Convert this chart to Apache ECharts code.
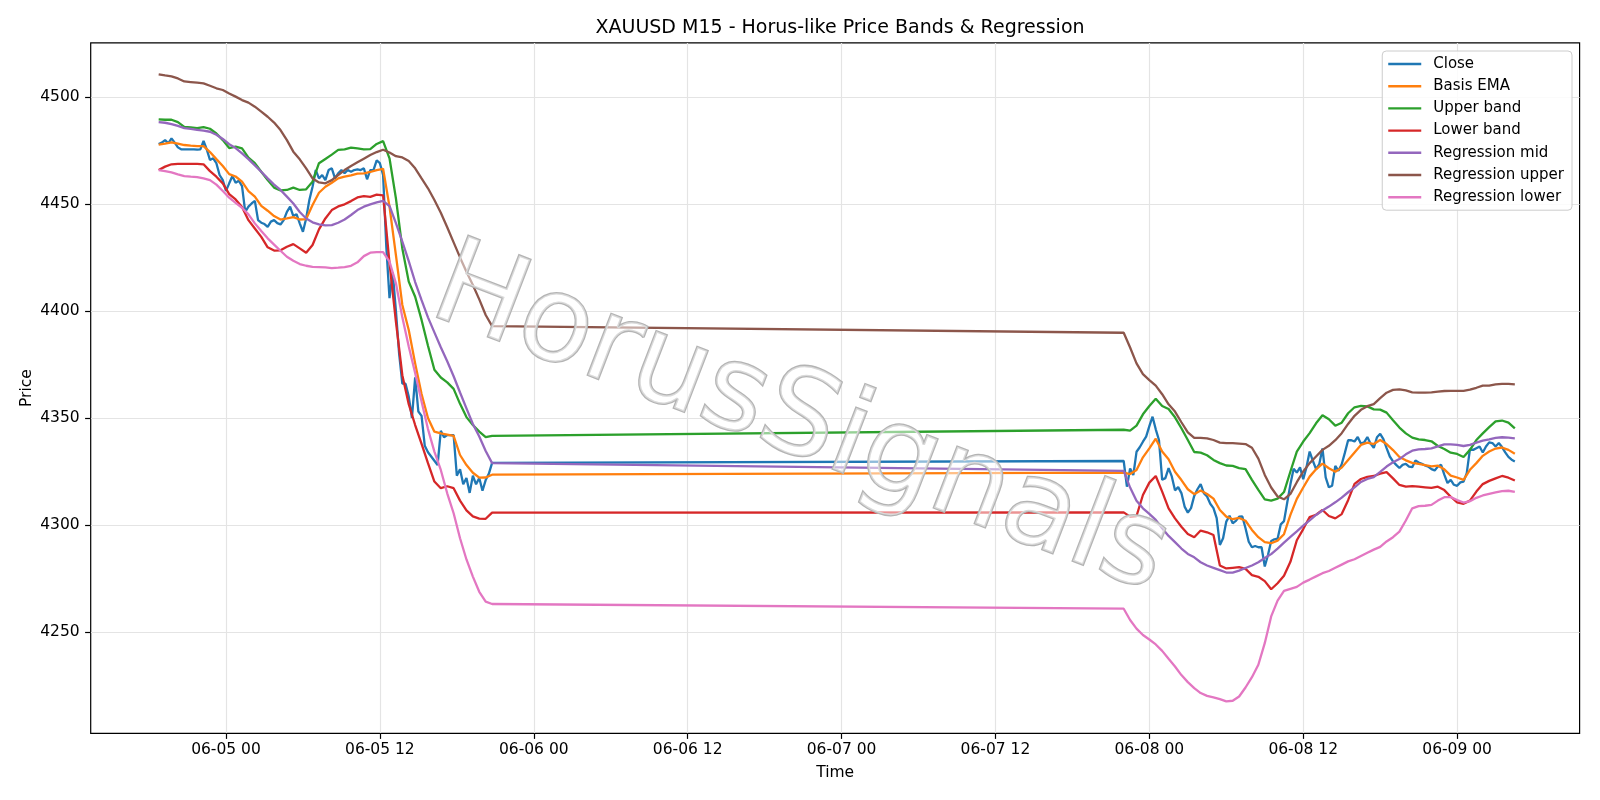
<!DOCTYPE html>
<html>
<head>
<meta charset="utf-8">
<script src="https://cdn.jsdelivr.net/npm/echarts@6/dist/echarts.min.js"></script>
<style>
html,body{margin:0;padding:0;background:#ffffff;}
#chart{width:1600px;height:800px;}
</style>
</head>
<body>
<div id="chart"></div>
<script>
// ---------- DATA ----------
// Close: M15 bars. Segment 1 starts 06-04 18:45, segment 2 starts 06-07 22:00 (UTC)
const closeStart1 = '2026-06-04T18:45:00Z';
const closeStart2 = '2026-06-07T22:00:00Z';
const closeStepMin = 15;
// Indicator lines are read every 30 min
const lineStart1 = '2026-06-04T18:45:00Z';
const lineStart2 = '2026-06-07T22:00:00Z';
const lineStepMin = 30;

const close1 = [4477.9,4478.6,4479.8,4478.3,4480.6,4478.6,4476.4,4475.5,4475.5,4475.5,
4475.5,4475.5,4475.3,4475.5,4479.4,4475.5,4470.5,4471.3,4469.0,4463.5,
4461.1,4456.1,4459.6,4463.0,4459.9,4460.8,4458.3,4446.3,4448.7,4450.2,
4451.4,4442.4,4441.2,4440.6,4439.3,4441.7,4442.4,4441.0,4440.4,4442.4,
4446.3,4448.7,4444.3,4445.2,4440.9,4437.0,4443.2,4451.8,4458.0,4465.8,
4461.9,4463.5,4461.1,4465.8,4466.6,4461.9,4464.3,4465.8,4464.3,4465.8,
4465.0,4465.8,4466.1,4465.8,4466.6,4461.5,4465.8,4465.8,4470.3,4469.0,
4463.5,4430.0,4406.0,4418.0,4400.0,4380.0,4366.0,4366.0,4360.0,4350.0,
4369.0,4353.0,4351.0,4337.0,4334.0,4332.0,4330.0,4328.0,4344.0,4341.0,
4342.0,4342.0,4342.0,4323.0,4326.0,4319.0,4322.0,4315.0,4323.0,4319.0,
4322.0,4316.0,4321.0,4324.0,4329.0];
const close2 = [4329.9,4317.9,4326.4,4323.3,4334.2,4336.3,4338.9,4341.3,4346.2,4350.6,
4344.7,4339.7,4321.1,4321.9,4326.6,4322.7,4316.2,4317.7,4314.9,4308.6,
4305.8,4307.9,4313.6,4316.7,4319.1,4314.9,4313.3,4309.9,4307.9,4303.2,
4290.7,4293.8,4301.6,4304.3,4300.8,4301.9,4303.9,4304.0,4298.5,4292.2,
4289.6,4290.2,4289.6,4289.6,4280.6,4286.0,4292.5,4293.3,4293.6,4300.3,
4301.8,4310.4,4319.0,4326.3,4324.5,4326.9,4321.4,4326.9,4334.3,4330.0,
4326.1,4328.4,4335.8,4322.2,4317.6,4318.3,4327.6,4325.3,4328.4,4333.8,
4339.6,4339.6,4339.0,4341.1,4338.0,4338.6,4341.1,4338.0,4336.0,4341.0,
4342.6,4340.1,4335.9,4332.0,4329.7,4328.1,4326.6,4328.1,4328.6,4327.3,
4327.0,4330.1,4329.2,4328.6,4327.8,4327.3,4326.1,4325.5,4327.3,4328.1,
4323.5,4319.6,4321.1,4318.8,4318.3,4319.9,4320.3,4324.2,4335.4,4335.1,
4335.9,4336.7,4333.9,4336.7,4338.6,4338.3,4336.7,4338.3,4336.4,4333.9,
4331.8,4330.5,4329.7];

const ema1 = [4477.7,4478.1,4478.7,4478.1,4477.5,4477.2,4477.0,4477.0,4474.2,4470.9,
4467.7,4463.9,4462.8,4460.4,4456.0,4453.4,4449.1,4446.8,4444.3,4442.7,
4443.2,4443.8,4442.7,4442.9,4449.5,4455.2,4458.0,4459.9,4461.9,4462.7,
4463.3,4464.1,4464.3,4464.9,4465.8,4466.4,4448.7,4426.1,4402.8,4391.1,
4375.5,4361.2,4350.0,4343.6,4342.8,4342.2,4341.6,4332.7,4328.0,4324.4,
4322.1,4322.2,4323.5];
const ema2 = [4324.5,4323.8,4325.7,4331.6,4335.8,4340.3,4334.3,4330.7,4324.9,4321.0,
4316.7,4314.4,4316.1,4314.5,4312.3,4307.0,4303.9,4302.7,4303.3,4302.0,
4297.7,4294.3,4292.0,4291.5,4292.7,4295.7,4304.7,4312.2,4317.5,4322.6,
4326.0,4328.7,4326.5,4324.9,4326.8,4330.4,4333.9,4337.4,4338.5,4337.8,
4339.7,4337.8,4335.0,4331.8,4330.2,4329.0,4328.5,4328.0,4327.4,4327.7,
4326.0,4323.1,4322.2,4321.1,4325.8,4328.9,4332.3,4334.3,4335.7,4336.2,
4335.1,4333.3];

const upper1 = [4489.5,4489.3,4489.3,4488.2,4486.0,4485.7,4485.4,4485.9,4485.1,4482.9,
4479.8,4476.1,4476.7,4475.9,4471.6,4469.0,4465.0,4461.1,4457.6,4456.3,
4456.5,4457.6,4456.5,4456.8,4460.4,4469.0,4471.0,4473.0,4475.2,4475.5,
4476.3,4475.9,4475.5,4475.6,4478.0,4479.3,4471.3,4452.6,4429.2,4413.7,
4406.6,4395.8,4383.7,4372.5,4368.9,4366.6,4363.6,4356.6,4350.4,4346.7,
4343.6,4341.1,4341.6];
const upper2 = [4344.5,4344.1,4346.4,4351.7,4355.6,4359.0,4355.6,4354.2,4350.3,4345.2,
4339.7,4334.1,4333.8,4332.6,4330.4,4328.9,4327.8,4327.6,4326.6,4326.1,
4321.1,4316.4,4312.0,4311.4,4312.3,4315.4,4325.0,4334.3,4339.0,4342.9,
4347.5,4351.3,4349.4,4346.4,4347.8,4352.2,4355.0,4355.6,4355.4,4354.0,
4353.9,4352.5,4348.9,4345.5,4342.8,4340.8,4340.0,4339.7,4339.1,4336.9,
4335.5,4333.8,4333.2,4331.8,4335.1,4339.7,4342.8,4345.7,4348.4,4348.8,
4347.8,4345.1];

const lower1 = [4465.8,4467.4,4468.5,4468.7,4468.7,4468.7,4468.7,4468.5,4465.3,4462.7,
4459.6,4454.6,4452.1,4448.5,4442.4,4438.5,4434.6,4429.7,4428.2,4428.3,
4430.0,4431.2,4429.2,4427.2,4430.8,4438.1,4443.2,4447.1,4448.8,4449.8,
4451.3,4453.0,4453.6,4453.3,4454.3,4454.0,4422.3,4395.0,4370.0,4356.4,
4346.7,4337.9,4328.9,4320.3,4317.2,4318.1,4317.2,4311.4,4306.8,4304.0,
4303.0,4302.9,4305.8];
const lower2 = [4305.9,4303.9,4304.2,4314.0,4319.8,4322.9,4315.6,4307.8,4303.1,4299.2,
4295.8,4294.3,4297.4,4296.6,4295.3,4281.1,4279.7,4280.0,4280.3,4279.5,
4276.6,4275.8,4273.8,4270.0,4272.8,4276.3,4282.8,4292.9,4298.1,4303.7,
4304.8,4307.0,4304.2,4303.1,4305.1,4311.6,4319.2,4321.5,4322.5,4322.9,
4324.0,4324.7,4321.8,4318.7,4317.9,4318.2,4317.9,4317.6,4317.3,4317.9,
4316.3,4313.2,4310.6,4309.9,4311.4,4315.6,4319.1,4320.6,4321.8,4322.9,
4322.1,4320.8];

const regMid1 = [4488.2,4487.9,4487.3,4486.4,4485.4,4485.0,4484.6,4484.2,4483.7,4482.3,
4480.3,4477.9,4476.1,4473.6,4470.9,4468.0,4465.0,4461.9,4459.0,4456.5,
4453.4,4450.2,4446.2,4443.2,4441.4,4440.4,4440.0,4440.1,4441.2,4442.7,
4444.8,4447.1,4448.7,4449.8,4450.7,4451.4,4449.0,4441.0,4432.4,4423.3,
4413.5,4405.0,4397.0,4390.0,4383.0,4376.5,4369.5,4361.9,4354.5,4347.2,
4341.3,4334.6,4328.9];
const regMid2 = [4325.3,4317.5,4311.3,4307.8,4305.2,4302.4,4298.5,4294.9,4292.0,4289.0,
4286.5,4284.9,4282.6,4281.1,4280.0,4278.9,4277.8,4277.8,4278.7,4279.9,
4281.1,4282.6,4284.6,4286.4,4289.0,4291.8,4294.4,4297.0,4299.7,4302.2,
4304.7,4306.8,4308.6,4310.6,4312.8,4315.3,4317.6,4320.1,4321.5,4322.4,
4324.8,4327.3,4329.3,4330.8,4333.0,4334.7,4335.3,4335.5,4335.8,4336.7,
4337.7,4337.7,4337.4,4336.9,4337.4,4338.5,4339.4,4340.0,4340.7,4341.0,
4340.8,4340.5];

const regUpper1 = [4510.5,4510.0,4509.6,4508.6,4507.2,4506.9,4506.6,4506.3,4505.2,4504.0,
4503.2,4501.6,4500.1,4498.5,4497.3,4495.4,4493.1,4490.7,4488.0,4484.5,
4479.8,4474.4,4470.8,4466.6,4461.9,4460.0,4459.6,4461.1,4463.5,4465.8,
4467.7,4469.4,4471.1,4472.8,4474.2,4475.3,4474.0,4472.3,4471.7,4470.0,
4466.6,4461.9,4457.3,4451.8,4445.9,4439.1,4432.0,4425.0,4418.3,4412.1,
4405.4,4398.1,4392.9];
const regUpper2 = [4389.8,4382.9,4375.5,4370.5,4367.7,4365.1,4361.1,4356.4,4353.0,4348.0,
4343.3,4340.7,4340.7,4340.5,4339.7,4338.5,4338.2,4338.2,4338.0,4337.8,
4336.1,4331.0,4323.4,4317.5,4313.3,4312.0,4314.5,4320.0,4325.0,4328.9,
4332.0,4335.1,4337.0,4339.6,4342.9,4347.2,4351.0,4353.8,4355.5,4356.5,
4359.3,4361.8,4363.1,4363.4,4362.9,4362.0,4361.8,4361.8,4362.0,4362.3,
4362.6,4362.7,4362.7,4362.7,4363.2,4364.1,4365.1,4365.1,4365.7,4365.9,
4365.9,4365.7];

const regLower1 = [4465.8,4465.3,4464.7,4463.8,4463.0,4462.7,4462.5,4461.9,4461.1,4459.0,
4456.0,4452.9,4450.5,4448.2,4445.1,4440.9,4437.3,4433.9,4431.0,4428.1,
4425.3,4423.4,4421.9,4421.1,4420.6,4420.5,4420.3,4420.0,4420.2,4420.5,
4421.1,4422.7,4425.6,4427.2,4427.5,4427.5,4423.0,4412.9,4397.0,4383.4,
4371.0,4357.7,4344.8,4334.3,4325.7,4314.8,4305.5,4293.8,4283.9,4275.9,
4268.8,4264.2,4263.1];
const regLower2 = [4260.9,4255.6,4251.6,4248.6,4246.5,4244.2,4241.2,4237.5,4233.9,4229.9,
4226.6,4223.8,4221.5,4220.2,4219.5,4218.7,4217.6,4217.9,4219.9,4224.1,
4228.9,4234.7,4244.8,4257.3,4264.7,4269.2,4270.2,4271.1,4273.1,4274.5,
4276.0,4277.5,4278.5,4280.0,4281.5,4283.0,4284.0,4285.5,4287.0,4288.5,
4289.8,4292.3,4294.3,4296.9,4302.1,4307.8,4308.8,4309.0,4309.4,4311.4,
4313.0,4313.0,4311.7,4310.5,4311.1,4312.7,4313.8,4314.5,4315.2,4315.8,
4316.0,4315.5];

const seriesNames = ['Close','Basis EMA','Upper band','Lower band','Regression mid','Regression upper','Regression lower'];
const seriesColors = ['#1f77b4','#ff7f0e','#2ca02c','#d62728','#9467bd','#8c564b','#e377c2'];

const xTicks = ['2026-06-05T00:00:00Z','2026-06-05T12:00:00Z','2026-06-06T00:00:00Z','2026-06-06T12:00:00Z',
  '2026-06-07T00:00:00Z','2026-06-07T12:00:00Z','2026-06-08T00:00:00Z','2026-06-08T12:00:00Z','2026-06-09T00:00:00Z'];
const yTicks = [4250, 4300, 4350, 4400, 4450, 4500];

const titleText = 'XAUUSD M15 - Horus-like Price Bands & Regression';
const watermarkText = 'HorusSignals';

// ---------- BUILD ----------
function pairs(startIso, stepMin, values) {
  const t0 = Date.parse(startIso);
  return values.map((v, i) => [t0 + i * stepMin * 60000, v]);
}
function joined(a1, a2, s1, s2, step) {
  return pairs(s1, step, a1).concat(pairs(s2, step, a2));
}
const dataSets = [
  joined(close1, close2, closeStart1, closeStart2, closeStepMin),
  joined(ema1, ema2, lineStart1, lineStart2, lineStepMin),
  joined(upper1, upper2, lineStart1, lineStart2, lineStepMin),
  joined(lower1, lower2, lineStart1, lineStart2, lineStepMin),
  joined(regMid1, regMid2, lineStart1, lineStart2, lineStepMin),
  joined(regUpper1, regUpper2, lineStart1, lineStart2, lineStepMin),
  joined(regLower1, regLower2, lineStart1, lineStart2, lineStepMin)
];

function pad2(n){ return (n < 10 ? '0' : '') + n; }
function fmtTime(v) {
  const d = new Date(v);
  return pad2(d.getUTCMonth() + 1) + '-' + pad2(d.getUTCDate()) + ' ' + pad2(d.getUTCHours());
}

const FONT = '"DejaVu Sans", Verdana, sans-serif';
const chart = echarts.init(document.getElementById('chart'), null, {renderer: 'canvas'});

const option = {
  animation: false,
  backgroundColor: '#ffffff',
  title: {
    text: titleText,
    left: 835,
    textAlign: 'center',
    top: 14,
    textStyle: {fontFamily: FONT, fontSize: 19, fontWeight: 'normal', color: '#000'}
  },
  legend: {
    data: seriesNames,
    orient: 'vertical',
    right: 28,
    top: 51,
    icon: 'rect',
    itemWidth: 33,
    itemHeight: 2.4,
    itemGap: 4.2,
    padding: [4, 8, 4, 6],
    backgroundColor: 'rgba(255,255,255,0.85)',
    borderColor: '#cccccc',
    borderWidth: 1,
    borderRadius: 4,
    textStyle: {fontFamily: FONT, fontSize: 15, color: '#000', lineHeight: 18, padding: [0, 0, 0, 7]}
  },
  grid: {
    left: 90.7, right: 20.4, top: 42.9, bottom: 66.7,
    show: true, borderColor: '#000', borderWidth: 1.2, backgroundColor: 'transparent'
  },
  xAxis: {
    type: 'value',
    min: Date.parse('2026-06-04T13:27:00Z'),
    max: Date.parse('2026-06-09T09:33:00Z'),
    name: 'Time',
    nameLocation: 'middle',
    nameGap: 32,
    nameMoveOverlap: false,
    nameTextStyle: {fontFamily: FONT, fontSize: 15.5, color: '#000'},
    axisLine: {show: false},
    axisTick: {show: true, length: 5.6, lineStyle: {color: '#000', width: 1.2}, customValues: xTicks.map(Date.parse)},
    axisLabel: {show: true, margin: 9, fontFamily: FONT, fontSize: 15.5, color: '#000', formatter: fmtTime, customValues: xTicks.map(Date.parse)},
    splitLine: {show: true, lineStyle: {color: '#e4e4e4', width: 1.2}}
  },
  yAxis: {
    type: 'value',
    min: 4202.7,
    max: 4525.2,
    name: 'Price',
    nameLocation: 'middle',
    nameRotate: 90,
    nameGap: 56,
    nameMoveOverlap: false,
    nameTextStyle: {fontFamily: FONT, fontSize: 15.5, color: '#000'},
    axisLine: {show: false},
    axisTick: {show: true, length: 5.6, lineStyle: {color: '#000', width: 1.2}, customValues: yTicks},
    axisLabel: {show: true, margin: 11, fontFamily: FONT, fontSize: 15.5, color: '#000', customValues: yTicks,
      formatter: function (v) { return String(Math.round(v)); }},
    splitLine: {show: true, lineStyle: {color: '#e4e4e4', width: 1.2}}
  },
  series: seriesNames.map((name, i) => ({
    name: name,
    type: 'line',
    data: dataSets[i],
    showSymbol: false,
    symbol: 'none',
    color: seriesColors[i],
    lineStyle: {color: seriesColors[i], width: 2.3},
    z: 2 + i
  })),
  graphic: [{
    type: 'text',
    x: 800,
    y: 423,
    rotation: -21 * Math.PI / 180,
    z: 100,
    silent: true,
    style: {
      text: watermarkText,
      font: '119px "DejaVu Sans"',
      align: 'center',
      verticalAlign: 'middle',
      fill: 'rgba(255,255,255,0.5)',
      stroke: '#b4b4b4',
      lineWidth: 2.6,
      shadowColor: 'rgba(0,0,0,0.28)',
      shadowOffsetX: 3,
      shadowOffsetY: 3,
      shadowBlur: 3
    }
  }]
};
chart.setOption(option);
</script>
</body>
</html>
